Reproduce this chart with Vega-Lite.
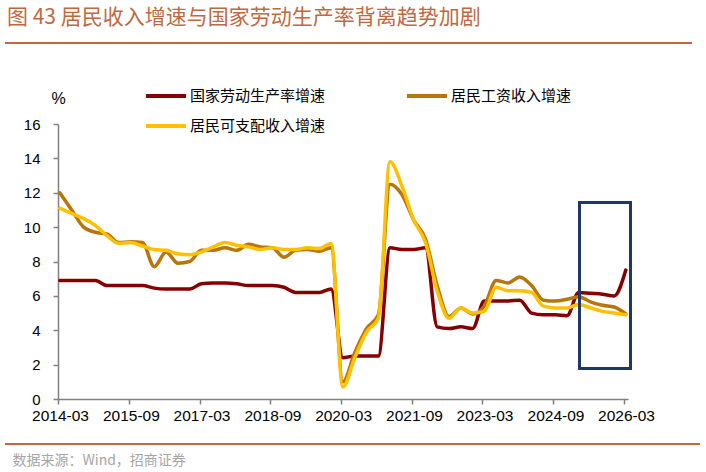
{
  "$schema": "https://vega.github.io/schema/vega-lite/v6.json",
  "width": 570,
  "height": 275,
  "autosize": {"type": "none"},
  "padding": {"left": 58, "top": 124, "right": 78, "bottom": 73},
  "background": "white",
  "config": {
    "view": {"stroke": null},
    "axis": {"labelOverlap": false}
  },
  "title": {
    "text": "图 43 居民收入增速与国家劳动生产率背离趋势加剧",
    "anchor": "start",
    "frame": "group",
    "dx": -51,
    "offset": -3,
    "baseline": "alphabetic",
    "font": "Noto Sans CJK SC",
    "fontSize": 21,
    "fontWeight": "normal",
    "color": "#C0693F"
  },
  "resolve": {"scale": {"y": "independent"}, "axis": {"y": "independent"}},
  "data": {"values": [
    {"date": "2014-03-15", "series": "国家劳动生产率增速", "value": 6.9},
    {"date": "2014-06-15", "series": "国家劳动生产率增速", "value": 6.9},
    {"date": "2014-09-15", "series": "国家劳动生产率增速", "value": 6.9},
    {"date": "2014-12-15", "series": "国家劳动生产率增速", "value": 6.9},
    {"date": "2015-03-15", "series": "国家劳动生产率增速", "value": 6.6},
    {"date": "2015-06-15", "series": "国家劳动生产率增速", "value": 6.6},
    {"date": "2015-09-15", "series": "国家劳动生产率增速", "value": 6.6},
    {"date": "2015-12-15", "series": "国家劳动生产率增速", "value": 6.6},
    {"date": "2016-03-15", "series": "国家劳动生产率增速", "value": 6.45},
    {"date": "2016-06-15", "series": "国家劳动生产率增速", "value": 6.4},
    {"date": "2016-09-15", "series": "国家劳动生产率增速", "value": 6.4},
    {"date": "2016-12-15", "series": "国家劳动生产率增速", "value": 6.4},
    {"date": "2017-03-15", "series": "国家劳动生产率增速", "value": 6.7},
    {"date": "2017-06-15", "series": "国家劳动生产率增速", "value": 6.75},
    {"date": "2017-09-15", "series": "国家劳动生产率增速", "value": 6.75},
    {"date": "2017-12-15", "series": "国家劳动生产率增速", "value": 6.7},
    {"date": "2018-03-15", "series": "国家劳动生产率增速", "value": 6.6},
    {"date": "2018-06-15", "series": "国家劳动生产率增速", "value": 6.6},
    {"date": "2018-09-15", "series": "国家劳动生产率增速", "value": 6.6},
    {"date": "2018-12-15", "series": "国家劳动生产率增速", "value": 6.5},
    {"date": "2019-03-15", "series": "国家劳动生产率增速", "value": 6.2},
    {"date": "2019-06-15", "series": "国家劳动生产率增速", "value": 6.2},
    {"date": "2019-09-15", "series": "国家劳动生产率增速", "value": 6.2},
    {"date": "2019-12-15", "series": "国家劳动生产率增速", "value": 6.4},
    {"date": "2020-03-15", "series": "国家劳动生产率增速", "value": 2.4},
    {"date": "2020-06-15", "series": "国家劳动生产率增速", "value": 2.5},
    {"date": "2020-09-15", "series": "国家劳动生产率增速", "value": 2.5},
    {"date": "2020-12-15", "series": "国家劳动生产率增速", "value": 2.5},
    {"date": "2021-03-15", "series": "国家劳动生产率增速", "value": 8.8},
    {"date": "2021-06-15", "series": "国家劳动生产率增速", "value": 8.7},
    {"date": "2021-09-15", "series": "国家劳动生产率增速", "value": 8.7},
    {"date": "2021-12-15", "series": "国家劳动生产率增速", "value": 8.8},
    {"date": "2022-03-15", "series": "国家劳动生产率增速", "value": 4.2},
    {"date": "2022-06-15", "series": "国家劳动生产率增速", "value": 4.1},
    {"date": "2022-09-15", "series": "国家劳动生产率增速", "value": 4.2},
    {"date": "2022-12-15", "series": "国家劳动生产率增速", "value": 4.1},
    {"date": "2023-03-15", "series": "国家劳动生产率增速", "value": 5.7},
    {"date": "2023-06-15", "series": "国家劳动生产率增速", "value": 5.7},
    {"date": "2023-09-15", "series": "国家劳动生产率增速", "value": 5.7},
    {"date": "2023-12-15", "series": "国家劳动生产率增速", "value": 5.75},
    {"date": "2024-03-15", "series": "国家劳动生产率增速", "value": 5.0},
    {"date": "2024-06-15", "series": "国家劳动生产率增速", "value": 4.9},
    {"date": "2024-09-15", "series": "国家劳动生产率增速", "value": 4.9},
    {"date": "2024-12-15", "series": "国家劳动生产率增速", "value": 4.85},
    {"date": "2025-03-15", "series": "国家劳动生产率增速", "value": 6.2},
    {"date": "2025-06-15", "series": "国家劳动生产率增速", "value": 6.15},
    {"date": "2025-09-15", "series": "国家劳动生产率增速", "value": 6.1},
    {"date": "2025-12-15", "series": "国家劳动生产率增速", "value": 6.0},
    {"date": "2026-03-15", "series": "国家劳动生产率增速", "value": 7.5},
    {"date": "2014-03-15", "series": "居民工资收入增速", "value": 12.0},
    {"date": "2014-06-15", "series": "居民工资收入增速", "value": 11.0},
    {"date": "2014-09-15", "series": "居民工资收入增速", "value": 10.0},
    {"date": "2014-12-15", "series": "居民工资收入增速", "value": 9.7},
    {"date": "2015-03-15", "series": "居民工资收入增速", "value": 9.6},
    {"date": "2015-06-15", "series": "居民工资收入增速", "value": 9.1},
    {"date": "2015-09-15", "series": "居民工资收入增速", "value": 9.15},
    {"date": "2015-12-15", "series": "居民工资收入增速", "value": 9.1},
    {"date": "2016-03-15", "series": "居民工资收入增速", "value": 7.7},
    {"date": "2016-06-15", "series": "居民工资收入增速", "value": 8.55},
    {"date": "2016-09-15", "series": "居民工资收入增速", "value": 7.9},
    {"date": "2016-12-15", "series": "居民工资收入增速", "value": 8.0},
    {"date": "2017-03-15", "series": "居民工资收入增速", "value": 8.65},
    {"date": "2017-06-15", "series": "居民工资收入增速", "value": 8.65},
    {"date": "2017-09-15", "series": "居民工资收入增速", "value": 8.8},
    {"date": "2017-12-15", "series": "居民工资收入增速", "value": 8.65},
    {"date": "2018-03-15", "series": "居民工资收入增速", "value": 9.0},
    {"date": "2018-06-15", "series": "居民工资收入增速", "value": 8.85},
    {"date": "2018-09-15", "series": "居民工资收入增速", "value": 8.8},
    {"date": "2018-12-15", "series": "居民工资收入增速", "value": 8.25},
    {"date": "2019-03-15", "series": "居民工资收入增速", "value": 8.65},
    {"date": "2019-06-15", "series": "居民工资收入增速", "value": 8.7},
    {"date": "2019-09-15", "series": "居民工资收入增速", "value": 8.6},
    {"date": "2019-12-15", "series": "居民工资收入增速", "value": 8.8},
    {"date": "2020-03-15", "series": "居民工资收入增速", "value": 1.0},
    {"date": "2020-06-15", "series": "居民工资收入增速", "value": 2.7},
    {"date": "2020-09-15", "series": "居民工资收入增速", "value": 4.1},
    {"date": "2020-12-15", "series": "居民工资收入增速", "value": 4.9},
    {"date": "2021-03-15", "series": "居民工资收入增速", "value": 12.5},
    {"date": "2021-06-15", "series": "居民工资收入增速", "value": 11.9},
    {"date": "2021-09-15", "series": "居民工资收入增速", "value": 10.4},
    {"date": "2021-12-15", "series": "居民工资收入增速", "value": 9.3},
    {"date": "2022-03-15", "series": "居民工资收入增速", "value": 6.6},
    {"date": "2022-06-15", "series": "居民工资收入增速", "value": 4.8},
    {"date": "2022-09-15", "series": "居民工资收入增速", "value": 5.3},
    {"date": "2022-12-15", "series": "居民工资收入增速", "value": 4.95},
    {"date": "2023-03-15", "series": "居民工资收入增速", "value": 5.4},
    {"date": "2023-06-15", "series": "居民工资收入增速", "value": 6.9},
    {"date": "2023-09-15", "series": "居民工资收入增速", "value": 6.75},
    {"date": "2023-12-15", "series": "居民工资收入增速", "value": 7.1},
    {"date": "2024-03-15", "series": "居民工资收入增速", "value": 6.6},
    {"date": "2024-06-15", "series": "居民工资收入增速", "value": 5.75},
    {"date": "2024-09-15", "series": "居民工资收入增速", "value": 5.7},
    {"date": "2024-12-15", "series": "居民工资收入增速", "value": 5.8},
    {"date": "2025-03-15", "series": "居民工资收入增速", "value": 5.95},
    {"date": "2025-06-15", "series": "居民工资收入增速", "value": 5.65},
    {"date": "2025-09-15", "series": "居民工资收入增速", "value": 5.45},
    {"date": "2025-12-15", "series": "居民工资收入增速", "value": 5.35},
    {"date": "2026-03-15", "series": "居民工资收入增速", "value": 4.95},
    {"date": "2014-03-15", "series": "居民可支配收入增速", "value": 11.1},
    {"date": "2014-06-15", "series": "居民可支配收入增速", "value": 10.8},
    {"date": "2014-09-15", "series": "居民可支配收入增速", "value": 10.5},
    {"date": "2014-12-15", "series": "居民可支配收入增速", "value": 10.1},
    {"date": "2015-03-15", "series": "居民可支配收入增速", "value": 9.5},
    {"date": "2015-06-15", "series": "居民可支配收入增速", "value": 9.05},
    {"date": "2015-09-15", "series": "居民可支配收入增速", "value": 9.1},
    {"date": "2015-12-15", "series": "居民可支配收入增速", "value": 8.9},
    {"date": "2016-03-15", "series": "居民可支配收入增速", "value": 8.7},
    {"date": "2016-06-15", "series": "居民可支配收入增速", "value": 8.65},
    {"date": "2016-09-15", "series": "居民可支配收入增速", "value": 8.45},
    {"date": "2016-12-15", "series": "居民可支配收入增速", "value": 8.4},
    {"date": "2017-03-15", "series": "居民可支配收入增速", "value": 8.55},
    {"date": "2017-06-15", "series": "居民可支配收入增速", "value": 8.85},
    {"date": "2017-09-15", "series": "居民可支配收入增速", "value": 9.1},
    {"date": "2017-12-15", "series": "居民可支配收入增速", "value": 8.95},
    {"date": "2018-03-15", "series": "居民可支配收入增速", "value": 8.85},
    {"date": "2018-06-15", "series": "居民可支配收入增速", "value": 8.7},
    {"date": "2018-09-15", "series": "居民可支配收入增速", "value": 8.8},
    {"date": "2018-12-15", "series": "居民可支配收入增速", "value": 8.7},
    {"date": "2019-03-15", "series": "居民可支配收入增速", "value": 8.7},
    {"date": "2019-06-15", "series": "居民可支配收入增速", "value": 8.8},
    {"date": "2019-09-15", "series": "居民可支配收入增速", "value": 8.75},
    {"date": "2019-12-15", "series": "居民可支配收入增速", "value": 9.05},
    {"date": "2020-03-15", "series": "居民可支配收入增速", "value": 0.7},
    {"date": "2020-06-15", "series": "居民可支配收入增速", "value": 2.4},
    {"date": "2020-09-15", "series": "居民可支配收入增速", "value": 3.9},
    {"date": "2020-12-15", "series": "居民可支配收入增速", "value": 4.7},
    {"date": "2021-03-15", "series": "居民可支配收入增速", "value": 13.8},
    {"date": "2021-06-15", "series": "居民可支配收入增速", "value": 12.4},
    {"date": "2021-09-15", "series": "居民可支配收入增速", "value": 10.4},
    {"date": "2021-12-15", "series": "居民可支配收入增速", "value": 9.1},
    {"date": "2022-03-15", "series": "居民可支配收入增速", "value": 6.3},
    {"date": "2022-06-15", "series": "居民可支配收入增速", "value": 4.7},
    {"date": "2022-09-15", "series": "居民可支配收入增速", "value": 5.3},
    {"date": "2022-12-15", "series": "居民可支配收入增速", "value": 5.0},
    {"date": "2023-03-15", "series": "居民可支配收入增速", "value": 5.1},
    {"date": "2023-06-15", "series": "居民可支配收入增速", "value": 6.5},
    {"date": "2023-09-15", "series": "居民可支配收入增速", "value": 6.3},
    {"date": "2023-12-15", "series": "居民可支配收入增速", "value": 6.3},
    {"date": "2024-03-15", "series": "居民可支配收入增速", "value": 6.2},
    {"date": "2024-06-15", "series": "居民可支配收入增速", "value": 5.4},
    {"date": "2024-09-15", "series": "居民可支配收入增速", "value": 5.3},
    {"date": "2024-12-15", "series": "居民可支配收入增速", "value": 5.3},
    {"date": "2025-03-15", "series": "居民可支配收入增速", "value": 5.5},
    {"date": "2025-06-15", "series": "居民可支配收入增速", "value": 5.3},
    {"date": "2025-09-15", "series": "居民可支配收入增速", "value": 5.1},
    {"date": "2025-12-15", "series": "居民可支配收入增速", "value": 5.0},
    {"date": "2026-03-15", "series": "居民可支配收入增速", "value": 4.9}
  ]},
  "layer": [
    {
      "mark": {"type": "line", "interpolate": "monotone", "strokeWidth": 3.5, "strokeCap": "round", "strokeJoin": "round"},
      "encoding": {
        "x": {
          "field": "date", "type": "temporal",
          "scale": {"domain": [{"year": 2014, "month": 3, "date": 1}, {"year": 2026, "month": 4, "date": 1}]},
          "axis": {
            "values": [
              {"year": 2014, "month": 3, "date": 1}, {"year": 2015, "month": 9, "date": 1},
              {"year": 2017, "month": 3, "date": 1}, {"year": 2018, "month": 9, "date": 1},
              {"year": 2020, "month": 3, "date": 1}, {"year": 2021, "month": 9, "date": 1},
              {"year": 2023, "month": 3, "date": 1}, {"year": 2024, "month": 9, "date": 1},
              {"year": 2026, "month": 3, "date": 1}
            ],
            "format": "%Y-%m",
            "grid": false,
            "domainColor": "#808080", "domainWidth": 1.5,
            "tickColor": "#808080", "tickWidth": 1.5, "tickSize": 5,
            "labelFont": "Liberation Sans", "labelFontSize": 15.5, "labelColor": "#000000",
            "labelPadding": 4, "labelFlush": false, "labelOverlap": false, "labelOffset": 2,
            "title": "数据来源：Wind，招商证券",
            "titleX": -46, "titleY": 65, "titleAnchor": "start", "titleAlign": "left",
            "titleBaseline": "alphabetic",
            "titleFont": "Noto Sans CJK SC", "titleFontSize": 14, "titleFontWeight": "normal",
            "titleColor": "#A6A6A6"
          }
        },
        "y": {
          "field": "value", "type": "quantitative",
          "scale": {"domain": [0, 16], "nice": false, "zero": false},
          "axis": {
            "values": [0, 2, 4, 6, 8, 10, 12, 14, 16],
            "grid": false,
            "labelOverlap": false,
            "labelFlush": false,
            "labelBound": false,
            "domainColor": "#808080", "domainWidth": 1.5,
            "tickColor": "#808080", "tickWidth": 1.5, "tickSize": 5,
            "labelFont": "Liberation Sans", "labelFontSize": 15, "labelColor": "#000000",
            "labelPadding": 13,
            "title": "%", "titleAngle": 0, "titleX": 0, "titleY": -26,
            "titleAlign": "center", "titleBaseline": "middle",
            "titleFont": "Liberation Sans", "titleFontSize": 16, "titleFontWeight": "normal",
            "titleColor": "#000000"
          }
        },
        "color": {
          "field": "series", "type": "nominal",
          "sort": ["国家劳动生产率增速", "居民工资收入增速", "居民可支配收入增速"],
          "scale": {
            "domain": ["国家劳动生产率增速", "居民工资收入增速", "居民可支配收入增速"],
            "range": ["#850000", "#B8760A", "#FFC000"]
          },
          "legend": {
            "title": null,
            "values": ["国家劳动生产率增速", "居民可支配收入增速", "居民工资收入增速"],
            "orient": "none", "legendX": 86, "legendY": -50,
            "columns": 2, "columnPadding": 73, "rowPadding": -20, "padding": 0,
            "symbolType": "stroke", "symbolSize": 1600, "symbolStrokeWidth": 4,
            "labelFont": "Noto Sans CJK SC", "labelFontSize": 15, "labelColor": "#000000",
            "labelOffset": 2
          }
        }
      }
    },
    {
      "mark": {"type": "rect", "fillOpacity": 0, "stroke": "#1F3864", "strokeWidth": 2.5},
      "encoding": {
        "x": {"datum": {"year": 2025, "month": 3, "date": 23}, "type": "temporal"},
        "x2": {"datum": {"year": 2026, "month": 4, "date": 19}},
        "y": {"datum": 11.42, "type": "quantitative", "scale": {"domain": [0, 16], "nice": false, "zero": false}, "axis": null},
        "y2": {"datum": 1.79}
      }
    },
    {
      "mark": {"type": "rule", "stroke": "#C0693F", "strokeWidth": 2, "clip": false},
      "encoding": {
        "x": {"datum": {"year": 2013, "month": 1, "date": 15}, "type": "temporal"},
        "x2": {"datum": {"year": 2027, "month": 8, "date": 9}},
        "y": {"datum": 20.71, "type": "quantitative", "scale": {"domain": [0, 16], "nice": false, "zero": false}, "axis": null}
      }
    },
    {
      "mark": {"type": "rule", "stroke": "#C0693F", "strokeWidth": 2, "clip": false},
      "encoding": {
        "x": {"datum": {"year": 2013, "month": 1, "date": 15}, "type": "temporal"},
        "x2": {"datum": {"year": 2027, "month": 10, "date": 10}},
        "y": {"datum": -2.62, "type": "quantitative", "scale": {"domain": [0, 16], "nice": false, "zero": false}, "axis": null}
      }
    }
  ]
}
